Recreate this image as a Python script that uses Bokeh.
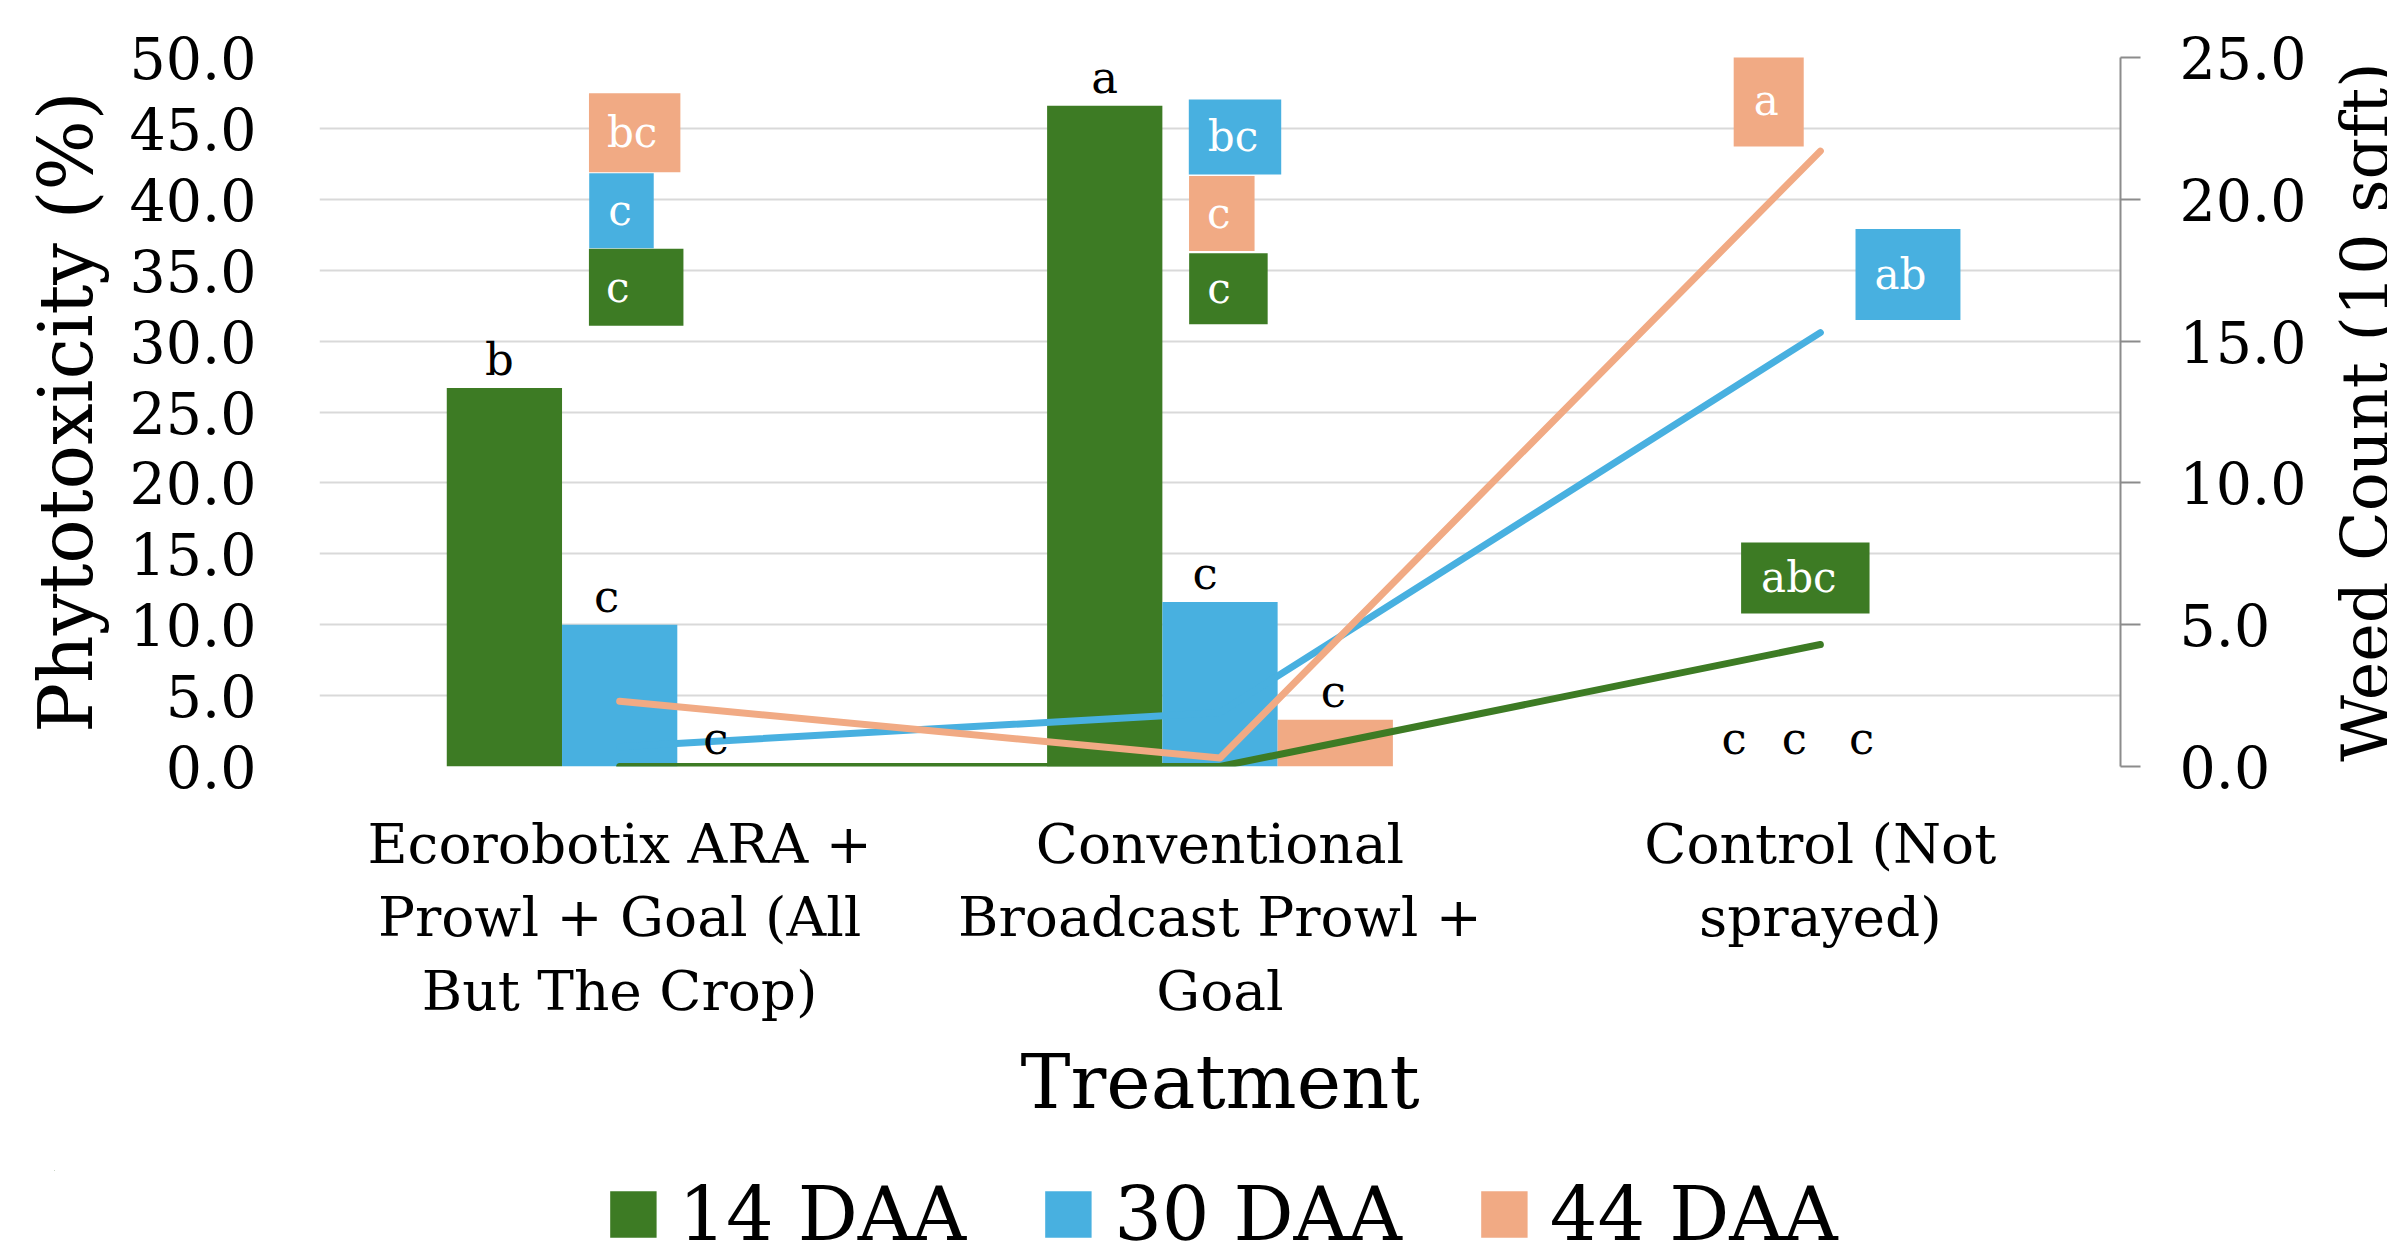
import math
from bokeh.plotting import figure
from bokeh.layouts import column, row
from bokeh.models import (Range1d, LinearAxis, FixedTicker, Legend, LegendItem, Label,
                          ColumnDataSource, NumeralTickFormatter)
from bokeh.core.properties import value
from bokeh.embed import file_html
from bokeh.resources import INLINE

# ---------------- data ----------------
treatments = ["Ecorobotix ARA +\nProwl + Goal (All\nBut The Crop)",
              "Conventional\nBroadcast Prowl +\nGoal",
              "Control (Not\nsprayed)"]
series = ["14 DAA", "30 DAA", "44 DAA"]

# Phytotoxicity (%) - bars, left axis
phyto_14 = [26.7, 46.6, 0.0]
phyto_30 = [10.0, 11.6, 0.0]
phyto_44 = [0.0, 3.3, 0.0]
phyto_letters_14 = ["b", "a", "c"]
phyto_letters_30 = ["c", "c", "c"]
phyto_letters_44 = ["c", "c", "c"]

# Weed count (10 sqft) - lines, right axis
weed_14 = [0.0, 0.0, 4.3]
weed_30 = [0.7, 1.9, 15.3]
weed_44 = [2.3, 0.3, 21.7]
weed_letters_14 = ["c", "c", "abc"]
weed_letters_30 = ["c", "bc", "ab"]
weed_letters_44 = ["bc", "c", "a"]

left_ticks = [0, 5, 10, 15, 20, 25, 30, 35, 40, 45, 50]
right_ticks = [0, 5, 10, 15, 20, 25]

# ---------------- style ----------------
FONT = "DejaVu Serif"
COLORS = ["#3D7B24", "#48B0E0", "#F1AA84"]
BAR_W = 0.192
offsets = [-BAR_W, 0.0, BAR_W]
centers = [i + 0.5 for i in range(len(treatments))]

W_TOTAL, W_STRIP = 2387, 59
W_MAIN = W_TOTAL - W_STRIP
H_MAIN, H_LEG = 1160, 97
FRAME_L, FRAME_T, FRAME_R, FRAME_B = 319, 57, 2120, 766

p = figure(width=W_MAIN, height=H_MAIN, x_range=Range1d(0, 3), y_range=Range1d(0, 50),
           output_backend="svg", toolbar_location=None,
           min_border_left=FRAME_L, min_border_right=W_MAIN - FRAME_R,
           min_border_top=FRAME_T, min_border_bottom=H_MAIN - FRAME_B)
p.outline_line_color = None
p.background_fill_color = "white"
p.border_fill_color = "white"
p.extra_y_ranges = {"weed": Range1d(0, 25)}

# grid
p.xgrid.grid_line_color = None
p.ygrid.ticker = FixedTicker(ticks=left_ticks)
p.ygrid.grid_line_color = "#D9D9D9"
p.ygrid.grid_line_width = 2

# left axis
ya = p.yaxis[0]
ya.ticker = FixedTicker(ticks=left_ticks)
ya.formatter = NumeralTickFormatter(format="0.0")
ya.axis_line_color = None
ya.major_tick_line_color = None
ya.minor_tick_line_color = None
ya.major_label_text_font = FONT
ya.major_label_text_font_size = "57px"
ya.major_label_text_color = "black"
ya.major_label_standoff = 57
ya.axis_label = "Phytotoxicity (%)"
ya.axis_label_text_font = FONT
ya.axis_label_text_font_size = "74px"
ya.axis_label_text_font_style = "normal"
ya.axis_label_text_color = "black"
ya.axis_label_standoff = 18

# right axis (its title is drawn in the strip to the right, reading bottom-to-top)
ra = LinearAxis(y_range_name="weed", ticker=FixedTicker(ticks=right_ticks),
                formatter=NumeralTickFormatter(format="0.0"))
ra.axis_line_color = "#8C8C8C"
ra.axis_line_width = 2
ra.major_tick_line_color = "#8C8C8C"
ra.major_tick_line_width = 2
ra.major_tick_out = 20
ra.major_tick_in = 0
ra.minor_tick_line_color = None
ra.major_label_text_font = FONT
ra.major_label_text_font_size = "57px"
ra.major_label_text_color = "black"
ra.major_label_standoff = 39
p.add_layout(ra, "right")

# bottom axis
xa = p.xaxis[0]
xa.ticker = FixedTicker(ticks=centers)
xa.major_label_overrides = {c: t for c, t in zip(centers, treatments)}
xa.axis_line_color = None
xa.major_tick_line_color = None
xa.major_tick_out = 0
xa.minor_tick_line_color = None
xa.major_label_text_font = FONT
xa.major_label_text_font_size = "55px"
xa.major_label_text_color = "black"
xa.major_label_text_line_height = 1.15
xa.major_label_standoff = 45
xa.axis_label = "Treatment"
xa.axis_label_text_font = FONT
xa.axis_label_text_font_size = "75px"
xa.axis_label_text_font_style = "normal"
xa.axis_label_text_color = "black"
xa.axis_label_standoff = 12

# bars
phyto = [phyto_14, phyto_30, phyto_44]
phyto_letters = [phyto_letters_14, phyto_letters_30, phyto_letters_44]
for k in range(3):
    src = ColumnDataSource(dict(x=[c + offsets[k] for c in centers], top=phyto[k]))
    p.vbar(x="x", top="top", width=BAR_W, source=src, fill_color=COLORS[k], line_color=None)

# lines
weeds = [weed_14, weed_30, weed_44]
for k in range(3):
    p.line(x=centers, y=weeds[k], y_range_name="weed", line_color=COLORS[k], line_width=7,
           line_join="round", line_cap="round")

# bar letters (pixel nudges for placement)
nudges = [[-5, 0, 29], [-13, -15, -26], [-19, -2, -74]]
for k in range(3):
    src = ColumnDataSource(dict(x=[c + offsets[k] for c in centers], y=phyto[k],
                                t=phyto_letters[k], dx=nudges[k]))
    p.text(x="x", y="y", text="t", x_offset="dx", y_offset=-2, source=src,
           text_font=value(FONT), text_font_size="45px", text_color="black",
           text_align="center", text_baseline="bottom")

# weed-count letter boxes: (series, category, box dx, box y, left, right, top, bottom padding)
weed_letters = [weed_letters_14, weed_letters_30, weed_letters_44]
box_layout = [
    (2, 0, 0.025, 44.7, 18, 23, 15, 15),
    (1, 0, 0.003, 39.2, 19, 22, 13, 13),
    (0, 0, 0.0275, 33.8, 17, 54, 14, 14),
    (1, 1, 0.025, 44.4, 19, 23, 13, 13),
    (2, 1, 0.003, 39.0, 18, 24, 13, 13),
    (0, 1, 0.014, 33.7, 18, 37, 11, 11),
    (2, 2, -0.086, 47.0, 20, 25, 22, 22),
    (1, 2, 0.146, 34.7, 19, 34, 21, 21),
    (0, 2, -0.025, 13.3, 20, 33, 11, 11),
]
for (k, c, dx, yv, pl, pr, pt, pb) in box_layout:
    lab = Label(x=centers[c] + dx, y=yv, text=weed_letters[k][c],
                text_font=FONT, text_font_size="42px", text_color="white",
                text_align="center", text_baseline="middle",
                background_fill_color=COLORS[k], background_fill_alpha=1.0,
                padding=dict(left=pl, right=pr, top=pt, bottom=pb))
    p.add_layout(lab)

# ---------------- right title strip ----------------
strip = figure(width=W_STRIP, height=H_MAIN, x_range=Range1d(0, 1), y_range=Range1d(0, 1),
               output_backend="svg", toolbar_location=None,
               x_axis_location=None, y_axis_location=None,
               min_border_left=0, min_border_right=0,
               min_border_top=FRAME_T, min_border_bottom=H_MAIN - FRAME_B)
strip.grid.visible = False
strip.outline_line_color = None
strip.background_fill_color = "white"
strip.border_fill_color = "white"
strip.add_layout(Label(x=0.63, y=0.5, text="Weed Count (10 sqft)", angle=math.pi / 2,
                       text_font=FONT, text_font_size="65px", text_color="black",
                       text_align="center", text_baseline="middle"))

# ---------------- legend strip ----------------
# ranges far away from the proxy data so the proxies never show
leg = figure(width=W_TOTAL, height=H_LEG, x_range=Range1d(100, 101), y_range=Range1d(-200, -100),
             output_backend="svg", toolbar_location=None,
             x_axis_location=None, y_axis_location=None,
             min_border_left=54, min_border_right=0, min_border_top=10, min_border_bottom=0)
leg.grid.visible = False
leg.outline_line_color = None
leg.background_fill_color = "white"
leg.border_fill_color = "white"
leg_renderers = []
for k in range(3):
    src = ColumnDataSource(dict(x=[c + offsets[k] for c in centers], top=phyto[k], bottom=phyto[k]))
    leg_renderers.append(leg.vbar(x="x", top="top", bottom="bottom", width=BAR_W, source=src,
                                  fill_color=COLORS[k], line_color=None))
legend = Legend(items=[LegendItem(label=series[k], renderers=[leg_renderers[k]]) for k in range(3)],
                orientation="horizontal", location="center",
                glyph_width=58, glyph_height=58, label_standoff=17, spacing=73,
                padding=0, margin=0, border_line_color=None, background_fill_alpha=0,
                label_text_font=FONT, label_text_font_size="75px", label_text_color="black")
leg.add_layout(legend, "center")

layout = column(row(p, strip, spacing=0), leg, spacing=0)
open("out.html", "w").write(file_html(layout, INLINE))
